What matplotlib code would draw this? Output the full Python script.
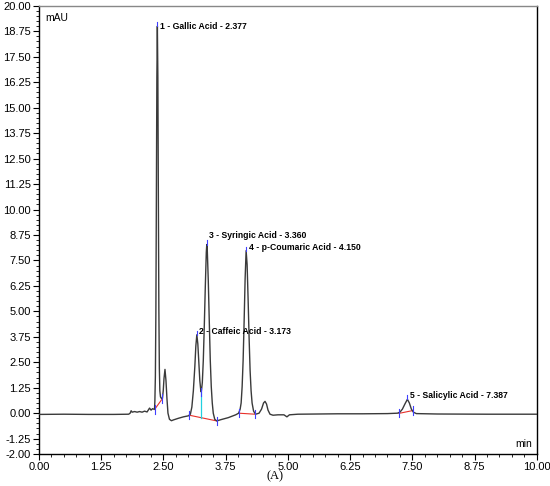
import matplotlib
matplotlib.use('Agg')
import matplotlib.pyplot as plt
from matplotlib.ticker import MultipleLocator

# trace (min, mAU)
time = [0.00, 0.50, 1.00, 1.50, 1.80, 1.83, 1.85, 1.87, 1.92, 1.97, 2.02, 2.07, 2.12, 2.17,
        2.22, 2.25, 2.28, 2.30, 2.32, 2.327, 2.337, 2.347, 2.357, 2.367, 2.377, 2.387,
        2.397, 2.407, 2.417, 2.427, 2.44, 2.46, 2.48, 2.495, 2.51, 2.53, 2.55, 2.57, 2.59,
        2.62, 2.66, 2.70, 2.80, 2.90, 3.00, 3.04, 3.07, 3.10, 3.13, 3.15, 3.17, 3.19, 3.21,
        3.23, 3.25, 3.26, 3.28, 3.30, 3.32, 3.34, 3.36, 3.37, 3.38, 3.40, 3.42, 3.44, 3.46,
        3.48, 3.50, 3.53, 3.57, 3.65, 3.80, 3.95, 4.01, 4.04, 4.06, 4.08, 4.10, 4.12, 4.14,
        4.16, 4.18, 4.20, 4.22, 4.24, 4.26, 4.28, 4.31, 4.35, 4.42, 4.47, 4.51, 4.54, 4.57,
        4.60, 4.64, 4.70, 4.80, 4.92, 4.98, 5.03, 5.20, 5.60, 6.00, 6.50, 7.00, 7.20, 7.25,
        7.30, 7.35, 7.40, 7.44, 7.48, 7.52, 7.58, 8.00, 9.00, 10.00]
signal = [-0.06, -0.05, -0.06, -0.06, -0.05, 0.00, 0.12, 0.05, 0.08, 0.05, 0.08, 0.05, 0.10, 0.06,
          0.25, 0.15, 0.22, 0.20, 0.20, 0.60, 1.80, 4.90, 10.5, 16.5, 19.0, 16.5,
          10.6, 5.10, 2.20, 1.10, 0.80, 0.72, 0.75, 1.10, 1.70, 2.15, 1.60, 0.70, 0.00,
          -0.30, -0.37, -0.33, -0.25, -0.18, -0.13, -0.05, 0.30, 1.10, 2.30, 3.30, 3.85, 3.40, 2.50,
          1.60, 1.10, 1.04, 1.50, 2.60, 4.30, 6.20, 7.90, 8.28, 8.00, 6.50, 4.50, 2.60, 1.30,
          0.50, 0.00, -0.30, -0.38, -0.32, -0.22, -0.08, 0.00, 0.20, 0.50, 1.30, 2.60, 4.50, 6.60,
          7.98, 7.30, 5.60, 3.70, 2.10, 1.10, 0.50, 0.10, -0.05, 0.00, 0.20, 0.50, 0.58, 0.45,
          0.15, -0.05, -0.10, -0.08, -0.08, -0.18, -0.08, -0.05, -0.04, -0.03, -0.03, -0.02, 0.00, 0.05,
          0.20, 0.45, 0.68, 0.50, 0.20, 0.05, -0.02, -0.04, -0.05, -0.05]

# peak labels
peak_names = ['1 - Gallic Acid - 2.377', '2 - Caffeic Acid - 3.173', '3 - Syringic Acid - 3.360',
              '4 - p-Coumaric Acid - 4.150', '5 - Salicylic Acid - 7.387']
peak_time = [2.377, 3.17, 3.37, 4.16, 7.40]
peak_height = [19.0, 3.85, 8.28, 7.98, 0.68]
label_y = [19.0, 4.0, 8.7, 8.12, 0.88]

# integration baselines (start, end)
base_t = [(2.32, 2.48), (3.02, 3.57), (4.01, 4.34), (7.23, 7.51)]
base_v = [(0.18, 0.72), (-0.10, -0.38), (0.00, -0.05), (-0.01, 0.13)]
# drop line between peaks 2 and 3
drop_t = 3.26
drop_v = (1.04, -0.25)

yticks = [-2.00, -1.25, 0.00, 1.25, 2.50, 3.75, 5.00, 6.25, 7.50, 8.75, 10.00, 11.25,
          12.50, 13.75, 15.00, 16.25, 17.50, 18.75, 20.00]
xticks = [0.00, 1.25, 2.50, 3.75, 5.00, 6.25, 7.50, 8.75, 10.00]

plt.rcParams['font.family'] = ['Liberation Sans', 'DejaVu Sans']

fig = plt.figure(figsize=(5.5, 4.86), dpi=100)
ax = fig.add_axes([0.071, 0.066, 0.905, 0.922])

ax.plot(time, signal, color='#3a3a3a', lw=1.0, zorder=3)

for (t0, t1), (v0, v1) in zip(base_t, base_v):
    ax.plot([t0, t1], [v0, v1], color='#e8302a', lw=0.8, zorder=2)
    ax.plot([t0, t0], [v0 - 0.2, v0 + 0.2], color='#4040ff', lw=0.8, zorder=4)
    ax.plot([t1, t1], [v1 - 0.2, v1 + 0.2], color='#4040ff', lw=0.8, zorder=4)
ax.plot([drop_t, drop_t], drop_v, color='#22d0e0', lw=0.9, zorder=2)
ax.plot([drop_t, drop_t], [drop_v[0] - 0.2, drop_v[0] + 0.2], color='#4040ff', lw=0.8, zorder=4)

for name, t, h, ly in zip(peak_names, peak_time, peak_height, label_y):
    ax.plot([t, t], [h, h + 0.2], color='#4040ff', lw=0.8, zorder=4)
    ax.text(t + 0.05, ly, name, fontsize=6.2, fontweight='bold', va='center', ha='left')

ax.set_xlim(0, 10)
ax.set_ylim(-2, 20)
ax.set_xticks(xticks)
ax.set_xticklabels(['%.2f' % v for v in xticks])
ax.set_yticks(yticks)
ax.set_yticklabels(['%.2f' % v for v in yticks])
ax.xaxis.set_minor_locator(MultipleLocator(0.25))
ax.yaxis.set_minor_locator(MultipleLocator(0.25))
ax.tick_params(which='major', direction='out', length=4, width=0.8, labelsize=8, pad=2)
ax.tick_params(which='minor', direction='out', length=2, width=0.6)
for s in ax.spines.values():
    s.set_linewidth(1.0)
ax.spines['top'].set_color('#888888')

ax.text(0.012, 0.985, 'mAU', transform=ax.transAxes, fontsize=7.5, va='top', ha='left')
ax.text(0.99, 0.012, 'min', transform=ax.transAxes, fontsize=7.5, va='bottom', ha='right')
fig.text(0.5, 0.02, '(A)', fontsize=9, ha='center', va='center', family='Liberation Serif')

fig.savefig('out.png', dpi=100)
